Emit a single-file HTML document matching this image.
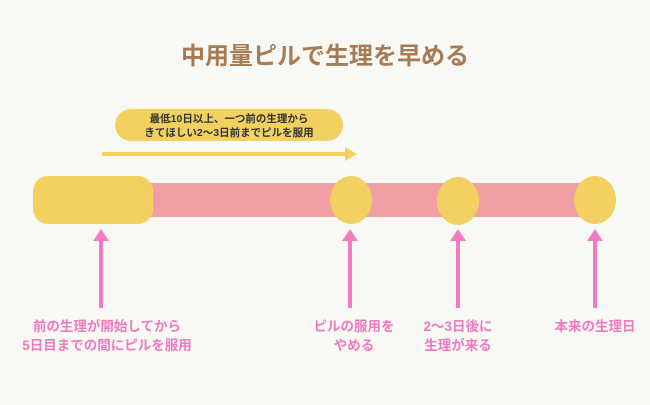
<!DOCTYPE html>
<html><head><meta charset="utf-8"><style>
body{margin:0;background:#f8f9f4;}
svg text{font-family:"Liberation Sans","Noto Sans CJK JP",sans-serif;font-weight:bold;}
</style></head><body>
<svg width="650" height="400" viewBox="0 0 650 400" xmlns="http://www.w3.org/2000/svg">
<rect width="650" height="400" fill="#f8f9f4"/>
<text x="325" y="64" font-size="24" fill="#a77c55" text-anchor="middle">中用量ピルで生理を早める</text>
<rect x="115" y="109" width="228" height="32" rx="16" fill="#f2d160"/>
<text x="229" y="122" font-size="10.5" fill="#333" text-anchor="middle">最低10日以上、一つ前の生理から</text>
<text x="229" y="136" font-size="10.5" fill="#333" text-anchor="middle">きてほしい2〜3日前までピルを服用</text>
<rect x="102" y="152" width="245" height="4" fill="#f2d160"/>
<polygon points="345,147 357,154 345,161" fill="#f2d160"/>
<rect x="145" y="183" width="450" height="34" fill="#f0a0a4"/>
<rect x="33" y="176" width="120" height="48" rx="15" fill="#f2d160"/>
<ellipse cx="351" cy="200" rx="21" ry="24" fill="#f2d160"/>
<ellipse cx="458" cy="201" rx="21" ry="24" fill="#f2d160"/>
<ellipse cx="595" cy="200" rx="21" ry="24" fill="#f2d160"/>
<g fill="#f47ac4">
<rect x="99" y="238" width="4" height="70"/><polygon points="93,241 101,229 109,241"/>
<rect x="348" y="238" width="4" height="70"/><polygon points="342,241 350,229 358,241"/>
<rect x="456" y="238" width="4" height="70"/><polygon points="450,241 458,229 466,241"/>
<rect x="593" y="238" width="4" height="70"/><polygon points="587,241 595,229 603,241"/>
</g>
<g font-size="13.5" fill="#f07ac0" text-anchor="middle">
<text x="107" y="331">前の生理が開始してから</text>
<text x="107" y="350">5日目までの間にピルを服用</text>
<text x="354" y="331">ピルの服用を</text>
<text x="354" y="350">やめる</text>
<text x="458" y="331">2〜3日後に</text>
<text x="458" y="350">生理が来る</text>
<text x="595" y="331">本来の生理日</text>
</g>
</svg>
</body></html>
